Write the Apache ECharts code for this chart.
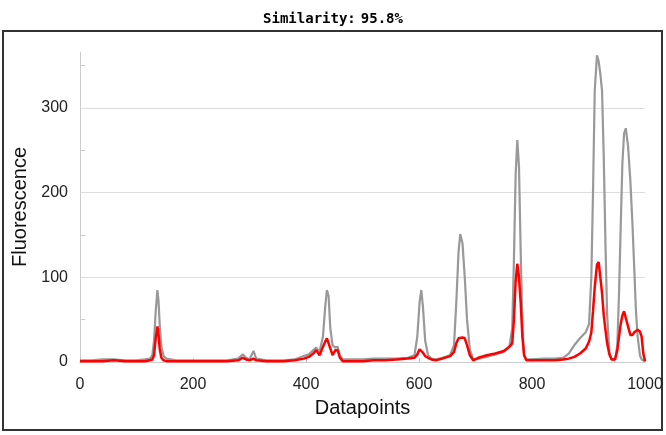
<!DOCTYPE html>
<html>
<head>
<meta charset="utf-8">
<script src="https://cdn.jsdelivr.net/npm/echarts@6/dist/echarts.min.js"></script>
<style>
  html, body { margin: 0; padding: 0; background: #fff; }
  #container { width: 666px; height: 435px; }
</style>
</head>
<body>
<div id="container"></div>
<script>
var xs = [0, 20, 40, 60, 80, 100, 115, 124, 128, 131, 134, 137, 139, 141, 144, 148, 153, 170, 200, 230,
    260, 280, 288, 294, 300, 307, 312, 330, 360, 380, 396, 405, 413, 418, 424, 430, 434, 437, 440, 443,
    447, 452, 456, 460, 465, 480, 500, 520, 540, 560, 580, 592, 597, 601, 604, 607, 611, 616, 622, 630,
    641, 655, 662, 666, 670, 673, 677, 681, 685, 690, 696, 705, 720, 735, 750, 760, 765, 768, 771, 774,
    777, 780, 783, 786, 790, 800, 820, 840, 855, 865, 875, 885, 895, 901, 905, 908, 911, 915, 918, 921,
    924, 927, 930, 933, 937, 941, 947, 951, 954, 957, 960, 963, 966, 970, 974, 978, 981, 984, 987, 991,
    994, 997, 1000];
var grayVals = [2, 2, 3, 3, 2, 2, 3, 4, 8, 25, 60, 85, 72, 45, 18, 7, 4, 2, 2, 2,
    2, 4, 9, 5, 3, 13, 4, 2, 2, 3, 7, 9, 14, 17, 12, 30, 65, 85, 78, 40,
    20, 17, 18, 8, 3, 3, 3, 4, 4, 4, 5, 8, 30, 70, 85, 65, 25, 8, 4, 3,
    5, 8, 20, 70, 130, 151, 140, 100, 50, 15, 3, 4, 6, 9, 12, 18, 40, 120, 220, 262,
    230, 130, 40, 8, 3, 3, 4, 4, 5, 10, 20, 28, 35, 45, 100, 200, 320, 362, 355, 340,
    320, 242, 140, 55, 10, 3, 3, 20, 80, 160, 235, 270, 276, 255, 215, 160, 110, 60, 30, 8,
    3, 2, 1];
var redVals = [1, 1, 1, 2, 1, 1, 1, 2, 3, 8, 28, 42, 32, 16, 5, 2, 1, 1, 1, 1,
    1, 2, 5, 3, 2, 4, 2, 1, 1, 2, 4, 6, 10, 14, 8, 18, 24, 28, 27, 16,
    8, 14, 14, 5, 1, 1, 1, 2, 2, 3, 4, 5, 9, 15, 16, 11, 7, 5, 3, 2,
    4, 7, 12, 22, 28, 29, 29, 28, 20, 8, 2, 5, 8, 10, 13, 18, 22, 50, 95, 116,
    100, 70, 30, 8, 2, 2, 2, 2, 3, 4, 6, 10, 16, 24, 35, 60, 88, 115, 118, 100,
    81, 55, 38, 22, 9, 3, 3, 14, 30, 45, 55, 60, 52, 42, 32, 32, 35, 37, 38, 36,
    30, 10, 1];
var yLabels = [0, 100, 200, 300];
var yMinorTicks = [50, 150, 250, 350];

var labelFont = 'Liberation Sans';

var option = {
    animation: false,
    title: {
        text: '{b|Similarity:} {n|95.8%}',
        left: 'center',
        top: 5,
        textStyle: {
            rich: {
                b: { fontFamily: 'DejaVu Sans Mono', fontWeight: 'bold', fontSize: 14, color: '#000' },
                n: { fontFamily: 'DejaVu Sans Mono', fontSize: 14, color: '#000' }
            }
        }
    },
    graphic: [{
        type: 'rect',
        shape: { x: 3, y: 31, width: 659, height: 399 },
        style: { fill: 'none', stroke: '#333', lineWidth: 2 },
        silent: true
    }],
    grid: { left: 80, right: 21, top: 52, bottom: 73 },
    xAxis: {
        type: 'value',
        min: 0,
        max: 1000,
        interval: 200,
        name: 'Datapoints',
        nameLocation: 'middle',
        nameGap: 36,
        nameTextStyle: { fontFamily: labelFont, fontSize: 20, color: '#111' },
        axisLine: { lineStyle: { color: '#ccc', width: 1 } },
        axisTick: { show: true, inside: true, length: 4, lineStyle: { color: '#bbb' } },
        axisLabel: {
            margin: 15, fontFamily: labelFont, fontSize: 16, color: '#222',
            formatter: function (v) { return String(v); }
        },
        splitLine: { show: false }
    },
    yAxis: [{
        type: 'value',
        min: 0,
        max: 366,
        interval: 100,
        name: 'Fluorescence',
        nameLocation: 'middle',
        nameGap: 46,
        nameRotate: 90,
        nameTextStyle: { fontFamily: labelFont, fontSize: 20, color: '#111' },
        axisLine: { show: true, lineStyle: { color: '#ccc', width: 1 } },
        axisTick: { show: false },
        axisLabel: {
            margin: 12, fontFamily: labelFont, fontSize: 16, color: '#222',
            showMaxLabel: false,
            formatter: function (v) { return yLabels.indexOf(v) >= 0 ? String(v) : ''; }
        },
        splitLine: { show: true, showMaxLine: false, lineStyle: { color: '#ddd', width: 1 } }
    }, {
        type: 'value',
        position: 'left',
        min: 0,
        max: 366,
        axisLine: { show: false },
        axisLabel: { show: false },
        splitLine: { show: false },
        axisTick: { show: true, inside: true, length: 5, customValues: yMinorTicks, lineStyle: { color: '#ccc' } }
    }],
    series: [{
        name: 'reference',
        type: 'line',
        showSymbol: false,
        data: xs.map(function (x, i) { return [x, grayVals[i]]; }),
        lineStyle: { color: '#999', width: 2.2 },
        itemStyle: { color: '#999' },
        z: 2
    }, {
        name: 'sample',
        type: 'line',
        showSymbol: false,
        data: xs.map(function (x, i) { return [x, redVals[i]]; }),
        lineStyle: { color: '#ff0000', width: 2.5 },
        itemStyle: { color: '#ff0000' },
        z: 3
    }]
};

var myChart = echarts.init(document.getElementById('container'));
myChart.setOption(option);
</script>
</body>
</html>
